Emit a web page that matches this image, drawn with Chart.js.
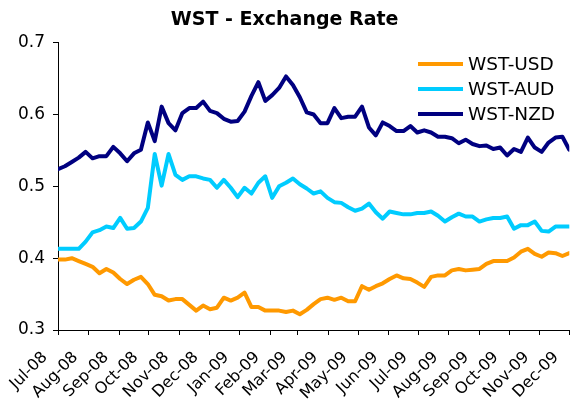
<!DOCTYPE html>
<html>
<head>
<meta charset="utf-8">
<script src="https://cdn.jsdelivr.net/npm/chart.js@4/dist/chart.umd.min.js"></script>
<style>
  html, body { margin: 0; padding: 0; background: #fff; }
  #wrap { width: 571px; height: 401px; }
</style>
</head>
<body>
<div id="wrap"><canvas id="chart" width="571" height="401"></canvas></div>
<script>
// month ticks: days since 1 Jul 2008
const monthLabels = ['Jul-08','Aug-08','Sep-08','Oct-08','Nov-08','Dec-08','Jan-09','Feb-09','Mar-09',
  'Apr-09','May-09','Jun-09','Jul-09','Aug-09','Sep-09','Oct-09','Nov-09','Dec-09'];
const monthDays = [0,31,62,92,123,153,184,215,243,274,304,335,365,396,427,457,488,518];

// weekly rates
const wstUsd = [0.398,0.398,0.400,0.396,0.392,0.388,0.379,0.385,0.380,0.371,0.364,0.370,0.374,0.364,0.349,0.347,
  0.341,0.343,0.343,0.335,0.327,0.334,0.329,0.331,0.345,0.341,0.345,0.352,0.332,0.332,0.327,0.327,0.327,0.325,
  0.327,0.322,0.328,0.336,0.343,0.345,0.342,0.345,0.340,0.340,0.361,0.356,0.361,0.365,0.371,0.376,0.372,0.371,
  0.366,0.360,0.374,0.376,0.376,0.383,0.385,0.383,0.384,0.385,0.392,0.396,0.396,0.396,0.401,0.409,0.413,0.406,
  0.402,0.408,0.407,0.403,0.407];
const wstAud = [0.413,0.413,0.413,0.413,0.423,0.436,0.439,0.444,0.442,0.456,0.441,0.442,0.451,0.470,0.545,0.501,
  0.545,0.516,0.509,0.514,0.514,0.511,0.509,0.498,0.509,0.498,0.485,0.498,0.490,0.505,0.514,0.484,0.500,0.505,
  0.511,0.503,0.497,0.490,0.493,0.484,0.478,0.477,0.471,0.466,0.469,0.476,0.464,0.455,0.465,0.463,0.461,0.461,
  0.463,0.463,0.465,0.459,0.451,0.457,0.462,0.458,0.458,0.451,0.454,0.456,0.456,0.458,0.441,0.446,0.446,0.451,
  0.438,0.437,0.444,0.444,0.444];
const wstNzd = [0.524,0.528,0.534,0.540,0.548,0.539,0.542,0.542,0.555,0.546,0.535,0.546,0.551,0.589,0.563,0.611,
  0.588,0.578,0.602,0.609,0.609,0.618,0.605,0.602,0.594,0.590,0.591,0.604,0.626,0.645,0.619,0.627,0.637,0.653,
  0.641,0.624,0.603,0.600,0.588,0.588,0.609,0.595,0.597,0.597,0.611,0.582,0.571,0.589,0.584,0.577,0.577,0.584,
  0.575,0.578,0.575,0.569,0.569,0.567,0.560,0.565,0.559,0.556,0.557,0.552,0.554,0.543,0.552,0.548,0.568,0.554,
  0.548,0.561,0.568,0.569,0.551];

const yTicks = [0.3,0.4,0.5,0.6,0.7];
const FONT = 'DejaVu Sans';

function weekly(values){
  return values.map((v, i) => ({x: i * 7, y: v}));
}

// legend sits inside the plot, top right
const insideLegend = {
  id: 'insideLegend',
  afterDraw(chart){
    const ctx = chart.ctx;
    ctx.save();
    ctx.font = '18.5px "' + FONT + '"';
    ctx.textBaseline = 'middle';
    chart.data.datasets.forEach((ds, i) => {
      const y = 64 + i * 25;
      ctx.strokeStyle = ds.borderColor;
      ctx.lineWidth = 4;
      ctx.beginPath();
      ctx.moveTo(418, y);
      ctx.lineTo(463, y);
      ctx.stroke();
      ctx.fillStyle = '#000';
      ctx.fillText(ds.label, 468, y + 1);
    });
    ctx.restore();
  }
};

new Chart(document.getElementById('chart'), {
  type: 'line',
  data: {
    datasets: [
      {label: 'WST-USD', data: weekly(wstUsd), borderColor: '#FF9900'},
      {label: 'WST-AUD', data: weekly(wstAud), borderColor: '#00CCFF'},
      {label: 'WST-NZD', data: weekly(wstNzd), borderColor: '#000080'}
    ]
  },
  options: {
    responsive: false,
    animation: false,
    elements: {
      line: {borderWidth: 4, tension: 0, borderJoinStyle: 'round', borderCapStyle: 'round', fill: false},
      point: {radius: 0}
    },
    layout: {padding: {left: 0, right: 1.7, top: 0, bottom: 0}},
    plugins: {
      legend: {display: false},
      tooltip: {enabled: false},
      title: {
        display: true,
        text: 'WST - Exchange Rate',
        color: '#000',
        font: {family: FONT, size: 19, weight: 'bold'},
        lineHeight: 1.2,
        padding: {top: 9, bottom: 10.9}
      }
    },
    scales: {
      x: {
        type: 'linear',
        min: monthDays[0],
        max: monthDays[monthDays.length - 1],
        afterBuildTicks: s => { s.ticks = monthDays.map(v => ({value: v})); },
        afterFit: s => { s.height = 71; s.paddingLeft = 0; s.paddingRight = 0; },
        ticks: {
          autoSkip: false, minRotation: 45, maxRotation: 45,
          color: '#000', padding: 13, labelOffset: -13,
          font: {family: FONT, size: 16},
          callback: (v, i) => monthLabels[i]
        },
        grid: {drawOnChartArea: false, tickLength: 5, color: '#000'},
        border: {color: '#000', width: 1}
      },
      y: {
        min: yTicks[0],
        max: yTicks[yTicks.length - 1],
        afterBuildTicks: s => { s.ticks = yTicks.map(v => ({value: v})); },
        afterFit: s => { s.width = 58; },
        ticks: {
          color: '#000', padding: 8,
          font: {family: FONT, size: 17},
          callback: v => v.toFixed(1)
        },
        grid: {drawOnChartArea: false, tickLength: 5, color: '#000'},
        border: {color: '#000', width: 1}
      }
    }
  },
  plugins: [insideLegend]
});
</script>
</body>
</html>
